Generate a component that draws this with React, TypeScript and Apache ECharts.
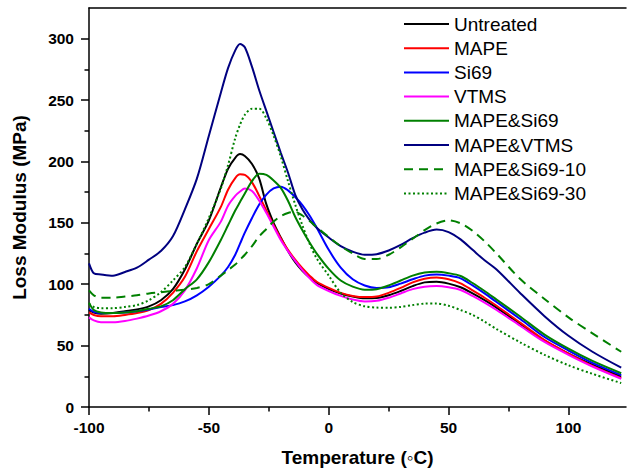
import React, { useEffect, useRef } from "react";
import * as echarts from "echarts";

const temps = [-100, -98, -95, -90, -85, -80, -75, -70, -65, -60, -55, -50, -45, -42, -39, -37, -35, -32, -29, -26, -23, -20, -17, -14, -11, -8, -5, 0, 5, 10, 15, 20, 25, 30, 35, 40, 45, 50, 55, 60, 65, 70, 80, 90, 100, 110, 122];

const untreated = [79, 77, 76, 76.5, 78, 79.5, 82, 87, 96, 112, 133, 152, 179, 194, 203, 206, 204.5, 198, 186, 165, 150, 138, 127, 118, 111, 105.5, 101, 96, 92.5, 90, 88.5, 88.7, 91, 94.5, 98.5, 101.5, 102, 100.5, 97.5, 92.5, 87, 81, 67.5, 54, 43.5, 34.5, 24.7];
const mape = [77, 75, 74, 74, 75, 76.5, 79, 84, 93, 106, 127, 145, 163, 177, 186.5, 189.5, 189, 183, 172, 160, 148, 137.5, 128, 120, 113, 107, 102, 97, 93, 90.5, 89.5, 90, 93, 97, 101.5, 104.5, 105.5, 104, 100.7, 95, 89, 82.5, 68.5, 54.5, 43.5, 33.5, 23.5];
const si69 = [80, 77.5, 76.5, 76.5, 77, 78, 79.5, 81.5, 83, 86, 91, 98, 107, 114, 124, 133, 142, 154, 165, 173, 178, 179.4, 176.5, 171, 164.5, 156, 146, 128, 113.5, 104, 99, 97, 97.5, 100.5, 104, 107, 108, 107, 104.8, 99, 92.5, 85.5, 71.5, 57, 46, 36, 26];
const vtms = [73, 70.5, 69, 69, 70, 72, 74.5, 78, 84, 95, 113, 136, 151, 164, 172, 175.5, 178, 176, 168, 158, 147, 136, 127, 119, 111.5, 105, 99.5, 94.5, 90.5, 87.5, 86, 86.5, 89, 92.5, 96, 98, 98.5, 97.5, 95.3, 90.5, 85, 79, 66, 53, 42.5, 33, 23];
const mapeSi69 = [85, 79, 77, 76.5, 77, 78, 80, 82, 87, 96, 104, 118, 136, 148, 160, 167, 174, 184, 190, 189, 184.5, 178.5, 168, 155, 144, 134, 125, 112.5, 103, 98, 95.5, 96, 99, 103, 107, 109.5, 110.2, 109, 106.7, 101, 94.5, 87.5, 73.5, 59, 47.5, 37.5, 27.5];
const mapeVtms = [117, 109, 108, 107, 110, 113.5, 120, 127, 139, 161, 186, 221, 256, 276, 290.5, 295.6, 293, 277, 258, 241, 224, 207, 191, 173, 161, 152.5, 146, 138, 131, 126.5, 124, 124.5, 127.5, 132, 137.5, 142, 144.5, 142.5, 136.5, 128, 119.5, 112, 92.5, 74, 58, 45, 32];
const mapeSi69_10 = [95, 91, 89, 89, 90, 91, 92.5, 93.5, 94.5, 95.5, 97, 100, 107, 111.5, 116, 120, 124, 131, 139, 145, 151, 155.5, 158, 159, 156, 151.5, 146.5, 138.5, 131, 125, 120.5, 120.5, 124, 130, 137, 144, 149.5, 152, 149.6, 143.5, 135, 125, 104, 88, 73, 60, 45];
const mapeSi69_30 = [84, 81.5, 80.5, 80.5, 81.5, 83, 87, 93.5, 103, 114, 133, 154, 178, 197, 219, 230, 238, 243, 243, 235, 221, 204, 184, 165, 148, 133, 121, 107, 93, 85.5, 82, 81, 80.8, 81.5, 83, 84.2, 84.3, 82.5, 79, 75, 69.5, 63.5, 52.5, 42.5, 34, 27, 19.5];

const seriesNames = ["Untreated", "MAPE", "Si69", "VTMS", "MAPE&Si69", "MAPE&VTMS", "MAPE&Si69-10", "MAPE&Si69-30"];
const seriesValues = [untreated, mape, si69, vtms, mapeSi69, mapeVtms, mapeSi69_10, mapeSi69_30];
const seriesColors = ["#000000", "#ff0000", "#0000ff", "#ff00ff", "#008000", "#000080", "#008000", "#008000"];
const seriesDash: any[] = ["solid", "solid", "solid", "solid", "solid", "solid", [9, 6], [2, 2.5]];

const xMajor = [-100, -50, 0, 50, 100];
const xMinor = [-75, -25, 25, 75];
const yMajor = [0, 50, 100, 150, 200, 250, 300];
const yMinor = [25, 75, 125, 175, 225, 275];

const FONT = "'Liberation Sans', Arial, sans-serif";

export default function App() {
  const ref = useRef<HTMLDivElement>(null);
  useEffect(() => {
    document.body.style.margin = "0";
    if (!ref.current) return;
    const chart = echarts.init(ref.current, undefined, { renderer: "svg" });
    const lineCol = { color: "#000", width: 1.5 };
    const option: any = {
      animation: false,
      backgroundColor: "#ffffff",
      grid: { left: 89, top: 8, right: 1, bottom: 66, containLabel: false },
      legend: {
        orient: "vertical",
        left: 403,
        top: 14,
        padding: 0,
        itemWidth: 45,
        itemHeight: 14,
        itemGap: 4.2,
        itemStyle: { opacity: 0 },
        textStyle: { fontSize: 19, fontFamily: FONT, color: "#000", lineHeight: 20 },
        data: seriesNames,
      },
      xAxis: [
        {
          type: "value", min: -100, max: 124, position: "bottom",
          axisLine: { show: true, onZero: false, lineStyle: lineCol },
          axisTick: { show: true, inside: false, length: 8, lineStyle: lineCol, customValues: xMajor },
          axisLabel: { customValues: xMajor, fontSize: 15.5, fontWeight: "bold", color: "#000", margin: 12, fontFamily: FONT },
          splitLine: { show: false },
          name: "Temperature (\u25E6C)", nameLocation: "middle", nameGap: 41,
          nameTextStyle: { fontSize: 19, fontWeight: "bold", color: "#000", fontFamily: FONT },
        },
        {
          type: "value", min: -100, max: 124, position: "bottom",
          axisLine: { show: false, onZero: false },
          axisTick: { show: true, inside: false, length: 4.5, lineStyle: lineCol, customValues: xMinor },
          axisLabel: { show: false }, splitLine: { show: false },
        },
        {
          type: "value", min: -100, max: 124, position: "top",
          axisLine: { show: true, onZero: false, lineStyle: lineCol },
          axisTick: { show: false }, axisLabel: { show: false }, splitLine: { show: false },
        },
      ],
      yAxis: [
        {
          type: "value", min: 0, max: 325, position: "left",
          axisLine: { show: true, onZero: false, lineStyle: lineCol },
          axisTick: { show: true, inside: false, length: 8, lineStyle: lineCol, customValues: yMajor },
          axisLabel: { customValues: yMajor, fontSize: 15.5, fontWeight: "bold", color: "#000", margin: 15, fontFamily: FONT },
          splitLine: { show: false },
          name: "Loss Modulus (MPa)", nameLocation: "middle", nameGap: 60, nameRotate: 90,
          nameTextStyle: { fontSize: 19, fontWeight: "bold", color: "#000", fontFamily: FONT },
        },
        {
          type: "value", min: 0, max: 325, position: "left",
          axisLine: { show: false, onZero: false },
          axisTick: { show: true, inside: false, length: 4.5, lineStyle: lineCol, customValues: yMinor },
          axisLabel: { show: false }, splitLine: { show: false },
        },
      ],
      series: seriesNames.map((name, k) => ({
        name,
        type: "line",
        xAxisIndex: 0,
        yAxisIndex: 0,
        showSymbol: false,
        symbol: "none",
        smooth: 0.3,
        lineStyle: { color: seriesColors[k], width: 2, type: seriesDash[k] },
        itemStyle: { color: seriesColors[k] },
        data: temps.map((t, i) => [t, seriesValues[k][i]]),
      })),
    };
    chart.setOption(option);
    return () => chart.dispose();
  }, []);
  return <div ref={ref} style={{ width: 627, height: 473 }} />;
}
